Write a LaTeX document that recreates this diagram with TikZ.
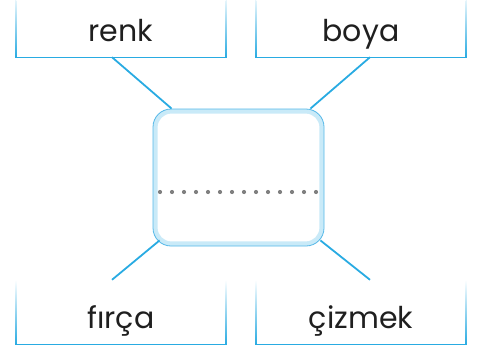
\documentclass[tikz,border=0pt]{standalone}
\usepackage{fontspec}
\setmainfont{Poppins}
\definecolor{lineblue}{HTML}{29ABE2}
\definecolor{paleblue}{HTML}{C9EAF8}
\definecolor{edgeblue}{HTML}{55B8E8}
\usetikzlibrary{positioning}

\begin{document}
\begin{tikzpicture}[
    x=1pt, y=-1pt,
    word/.style={rectangle, minimum width=210pt, minimum height=64pt, inner sep=0pt, text height=33pt, text depth=0pt, font=\fontsize{30}{36}\selectfont, text=black!88},
    card/.style={rectangle, rounded corners=18pt, draw=edgeblue, line width=0.8pt, fill=paleblue, minimum width=171pt, minimum height=137pt},
    link/.style={lineblue, line width=1.8pt}
]
\useasboundingbox (0,0) rectangle (479,348);

\node[word] (renk) at (121,25) {renk};
\node[word] (boya) at (361,25) {boya};
\node[word] (firca) at (121,312) {fırça};
\node[word] (cizmek) at (361,312) {çizmek};

\foreach \n in {renk,boya,firca,cizmek}{
    \shade[top color=white, bottom color=lineblue] ([xshift=-0.6pt]\n.north west) rectangle ([xshift=0.6pt]\n.south west);
    \shade[top color=white, bottom color=lineblue] ([xshift=-0.6pt]\n.north east) rectangle ([xshift=0.6pt]\n.south east);
    \draw[lineblue, line width=1.3pt] (\n.south west) -- (\n.south east);
}

\node[card] (card) at (238.5,177.5) {};
\fill[white, rounded corners=14pt] ([shift={(5pt,-5pt)}]card.north west) rectangle ([shift={(-5pt,5pt)}]card.south east);
\foreach \i in {0,...,13}
    \fill[black!50] (160+12*\i,192) circle (2.1pt);

\draw[link] ([xshift=-9pt]renk.south) -- ([xshift=19pt]card.north west);
\draw[link] ([xshift=9pt]boya.south) -- ([xshift=-14pt]card.north east);
\draw[link] ([xshift=-9pt]firca.north) -- ([xshift=7pt,yshift=6pt]card.south west);
\draw[link] ([xshift=9pt]cizmek.north) -- ([xshift=-4pt,yshift=6pt]card.south east);

\end{tikzpicture}
\end{document}
